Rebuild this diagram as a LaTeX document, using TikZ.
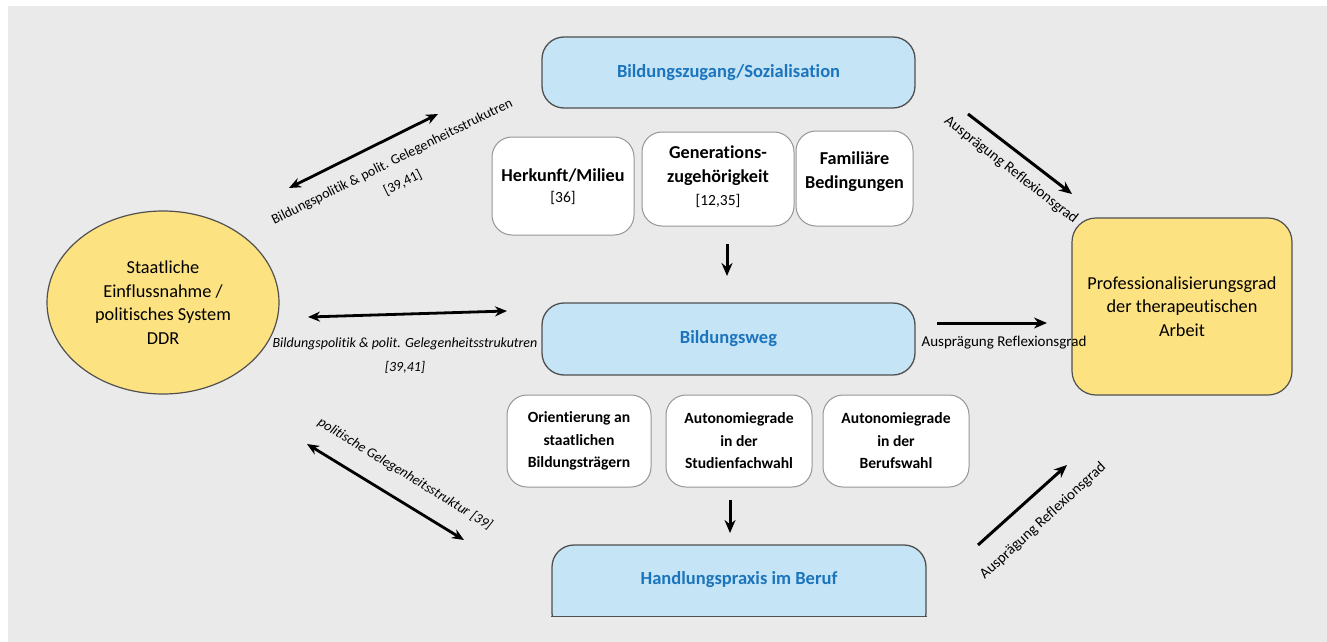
\documentclass[tikz,border=0pt]{standalone}
\usepackage{fontspec}
\setmainfont{Carlito}[Ligatures={NoCommon}]
\usetikzlibrary{shapes.geometric,arrows.meta}
\definecolor{bg}{RGB}{234,234,234}
\definecolor{boxblue}{RGB}{197,228,246}
\definecolor{txtblue}{RGB}{28,117,188}
\definecolor{yel}{RGB}{253,226,130}
\definecolor{bord}{RGB}{80,80,80}
\definecolor{wbord}{RGB}{150,150,150}
\tikzset{
  bluebox/.style={draw=bord, line width=1.3pt, fill=boxblue, rounded corners=22pt, inner sep=0pt,
    text=txtblue, font=\fontsize{18.5}{21}\selectfont\bfseries},
  whitebox/.style={draw=wbord, line width=1pt, fill=white, rounded corners=20pt, inner sep=0pt, align=center},
  boxtxt/.style={align=center, inner sep=0pt},
  yelnode/.style={draw=bord, line width=1.2pt, fill=yel, inner sep=0pt, align=center,
    font=\fontsize{18.3}{23.5}\selectfont},
  arr/.style={line width=3pt, -{Stealth[length=13pt,width=11pt]}},
  darr/.style={line width=2.8pt, {Stealth[length=12pt,width=10pt]}-{Stealth[length=12pt,width=10pt]}},
  lbl/.style={font=\fontsize{14}{24}\selectfont\itshape, inner sep=0pt, align=center},
  lblr/.style={font=\fontsize{15}{17}\selectfont, inner sep=0pt, align=center},
}
\begin{document}
\begin{tikzpicture}[x=1pt,y=-1pt]
\useasboundingbox (0,0) rectangle (1327,642);
\fill[white] (0,0) rectangle (1327,642);
\fill[bg] (8,6) rectangle (1327,642);

% blue main boxes
\node[bluebox, minimum width=373pt, minimum height=71pt] (zug) at (728.5,72.5) {Bildungszugang/Sozialisation};
\node[bluebox, minimum width=373pt, minimum height=72pt] (weg) at (728.5,339) {Bildungsweg};
\begin{scope}
  \clip (0,0) rectangle (1327,616);
  \node[bluebox, minimum width=374pt, minimum height=90pt] (hand) at (739,590) {};
\end{scope}
\draw[bord, line width=1pt] (hand.west |- 0,616) -- (hand.east |- 0,616);
\node[boxtxt, text=txtblue, font=\fontsize{18.5}{21}\selectfont\bfseries] (handtxt) at (739,580) {Handlungspraxis im Beruf};

% upper white boxes
\node[whitebox, minimum width=142pt, minimum height=98pt] (her) at (563,186) {};
\node[boxtxt, font=\fontsize{18.2}{21}\selectfont\bfseries] (hertxt) at (563,187) {Herkunft/Milieu\\\fontsize{15.5}{21}\selectfont\mdseries [36]};
\node[whitebox, minimum width=152pt, minimum height=94pt] (gen) at (718,179) {};
\node[boxtxt, font=\fontsize{18.2}{23.5}\selectfont\bfseries] (gentxt) at (718,177) {Generations-\\zugehörigkeit\\\fontsize{15.5}{22}\selectfont\mdseries [12,35]};
\node[whitebox, minimum width=117pt, minimum height=95pt] (fam) at (854.5,178.5) {};
\node[boxtxt, font=\fontsize{18.2}{23.5}\selectfont\bfseries] (famtxt) at (854.5,171.5) {Familiäre\\Bedingungen};

% lower white boxes
\node[whitebox, minimum width=144pt, minimum height=92pt, font=\fontsize{15.6}{22.5}\selectfont\bfseries] (ori) at (579,441) {Orientierung an\\staatlichen\\Bildungsträgern};
\node[whitebox, minimum width=146pt, minimum height=92pt, font=\fontsize{15.6}{22.5}\selectfont\bfseries] (aut1) at (739,441) {Autonomiegrade\\in der\\Studienfachwahl};
\node[whitebox, minimum width=146pt, minimum height=92pt, font=\fontsize{15.6}{22.5}\selectfont\bfseries] (aut2) at (896,441) {Autonomiegrade\\in der\\Berufswahl};

% yellow nodes
\node[yelnode, ellipse, minimum width=232pt, minimum height=183pt] (ddr) at (163,302.5) {Staatliche\\Einflussnahme /\\politisches System\\DDR};
\node[yelnode, rounded corners=24pt, minimum width=220pt, minimum height=177pt] (prof) at (1182,306.5) {Professionalisierungsgrad\\der therapeutischen\\Arbeit};

% arrow end points
\coordinate (ula) at (289,188); \coordinate (ulb) at (438,114);
\coordinate (mla) at (308,317); \coordinate (mlb) at (507,311);
\coordinate (lla) at (307,444); \coordinate (llb) at (464,540);
\coordinate (ura) at (968,114); \coordinate (urb) at (1072,194);
\coordinate (mra) at (937,323); \coordinate (mrb) at (1047,323);
\coordinate (lra) at (978,545); \coordinate (lrb) at (1067,465);
\coordinate (d1a) at (727,244); \coordinate (d1b) at (727,276);
\coordinate (d2a) at (730,500); \coordinate (d2b) at (730,533);

\draw[darr] (ula) -- (ulb);
\draw[darr] (mla) -- (mlb);
\draw[darr] (lla) -- (llb);
\draw[arr] (ura) -- (urb);
\draw[arr] (mra) -- (mrb);
\draw[arr] (lra) -- (lrb);
\draw[arr] (d1a) -- (d1b);
\draw[arr] (d2a) -- (d2b);

% labels
\node[lbl, font=\fontsize{14}{24}\selectfont\upshape, rotate=26.4] (ullbl) at (397.5,172.5) {Bildungspolitik \& polit. Gelegenheitsstrukutren\\{}[39,41]};
\node[lbl] (mllbl) at (405,356) {Bildungspolitik \& polit. Gelegenheitsstrukutren\\{}[39,41]};
\node[lbl, rotate=-31.5] (lllbl) at (405,474) {politische Gelegenheitsstruktur [39]};
\node[lblr, rotate=-38] (urlbl) at (1011,170) {Ausprägung Reflexionsgrad};
\node[lblr] (mrlbl) at (1004,343) {Ausprägung Reflexionsgrad};
\node[lblr, rotate=42.5] (lrlbl) at (1043,521) {Ausprägung Reflexionsgrad};
\end{tikzpicture}
\end{document}
